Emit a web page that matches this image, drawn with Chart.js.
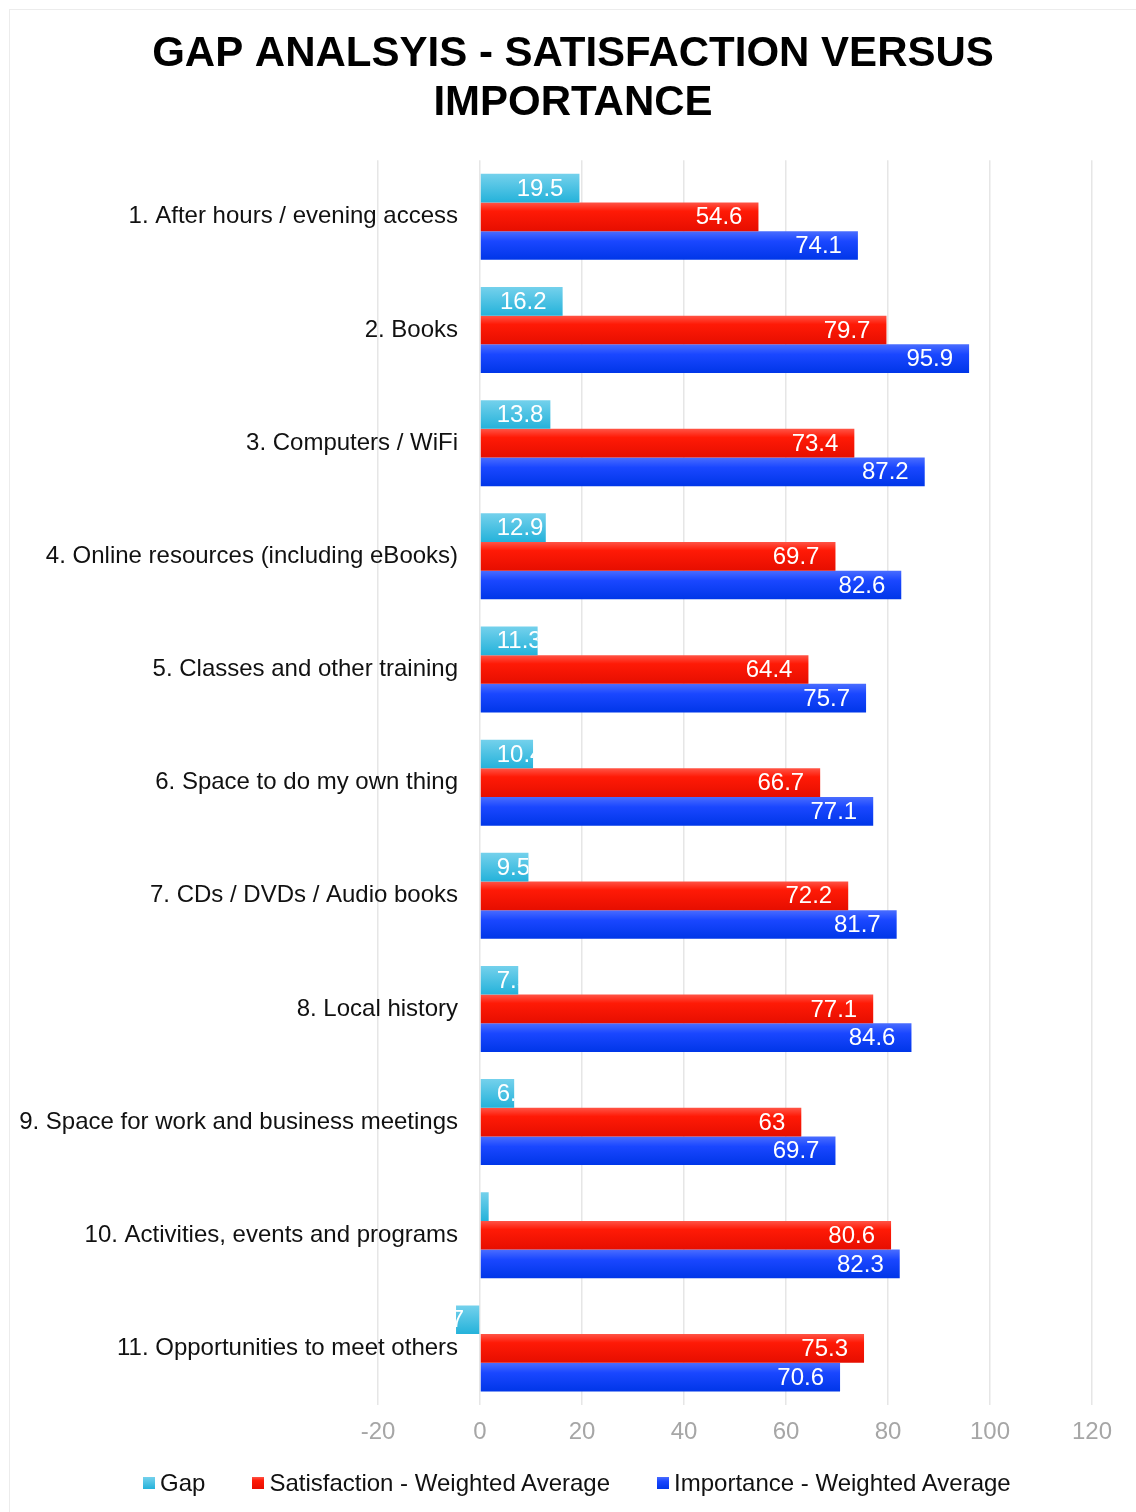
<!DOCTYPE html>
<html lang="en">
<head>
    <meta charset="UTF-8">
    <title>Gap Analysis - Satisfaction versus Importance</title>
    <style>
        body {
            margin: 0;
            padding: 0;
            background: #fff;
            font-family: "Liberation Sans", Arial, sans-serif;
        }
        .frame {
            position: absolute;
            left: 9px;
            top: 9px;
            width: 1127px;
            height: 1503px;
            border-top: 1px solid #ececec;
            border-left: 1px solid #ececec;
        }
        canvas {
            display: block;
        }
        #legend {
            position: absolute;
            left: 143px;
            top: 1469px;
            display: flex;
            align-items: center;
            font-size: 24px;
            line-height: 28px;
            color: #111;
        }
        #legend .item {
            display: flex;
            align-items: center;
            margin-right: 47px;
        }
        #legend .swatch {
            width: 12px;
            height: 12px;
            margin-right: 5px;
        }
    </style>
    <script src="https://cdn.jsdelivr.net/npm/chart.js"></script>
</head>
<body>
    <div class="frame">
        <canvas id="gapChart" width="1126" height="1502"></canvas>
    </div>
    <div id="legend"></div>
    <script>
        // データ
        const categories = [
            '1. After hours / evening access',
            '2. Books',
            '3. Computers / WiFi',
            '4. Online resources (including eBooks)',
            '5. Classes and other training',
            '6. Space to do my own thing',
            '7. CDs / DVDs / Audio books',
            '8. Local history',
            '9. Space for work and business meetings',
            '10. Activities, events and programs',
            '11. Opportunities to meet others'
        ];
        const seriesNames = ['Gap', 'Satisfaction - Weighted Average', 'Importance - Weighted Average'];
        const gapValues = [19.5, 16.2, 13.8, 12.9, 11.3, 10.4, 9.5, 7.5, 6.7, 1.7, -4.7];
        const satisfactionValues = [54.6, 79.7, 73.4, 69.7, 64.4, 66.7, 72.2, 77.1, 63, 80.6, 75.3];
        const importanceValues = [74.1, 95.9, 87.2, 82.6, 75.7, 77.1, 81.7, 84.6, 69.7, 82.3, 70.6];

        const FONT = '"Liberation Sans", Arial, sans-serif';

        // 縦グラデーション (上 → 下)
        const gradientStops = [
            [[0, '#74d1ec'], [1, '#24b2da']],
            [[0, '#ff5446'], [0.3, '#ff1a06'], [1, '#e60e00']],
            [[0, '#4a6dff'], [0.35, '#1a47ff'], [1, '#0036e8']]
        ];
        const flatColors = ['#3fbfe2', '#f51400', '#0a3cf2'];

        // 各バーにグラデーションを設定
        const barGradientPlugin = {
            id: 'barGradient',
            beforeDatasetsDraw(chart) {
                const ctx = chart.ctx;
                chart.data.datasets.forEach((ds, i) => {
                    chart.getDatasetMeta(i).data.forEach(bar => {
                        const { y, height } = bar.getProps(['y', 'height'], true);
                        const g = ctx.createLinearGradient(0, y - height / 2, 0, y + height / 2);
                        gradientStops[i].forEach(s => g.addColorStop(s[0], s[1]));
                        bar.options.backgroundColor = g;
                    });
                });
            }
        };

        // バーの内側(端)に値を表示、バーからはみ出す部分は切り取る
        const insideEndLabels = {
            id: 'insideEndLabels',
            afterDatasetsDraw(chart) {
                const ctx = chart.ctx;
                ctx.save();
                ctx.font = '24px ' + FONT;
                ctx.fillStyle = '#fff';
                ctx.textBaseline = 'middle';
                ctx.textAlign = 'left';
                chart.data.datasets.forEach((ds, i) => {
                    chart.getDatasetMeta(i).data.forEach((bar, idx) => {
                        const value = ds.data[idx];
                        const { x, y, base, height } = bar.getProps(['x', 'y', 'base', 'height'], true);
                        const left = Math.min(x, base);
                        const right = Math.max(x, base);
                        const text = String(value);
                        const tw = ctx.measureText(text).width;
                        let textRight;
                        if (value >= 0) {
                            textRight = Math.max(right - 16, left + 16 + tw);
                        } else {
                            textRight = left + 8;
                        }
                        ctx.save();
                        ctx.beginPath();
                        ctx.rect(left, y - height / 2, right - left, height);
                        ctx.clip();
                        ctx.fillText(text, textRight - tw, y + 1);
                        ctx.restore();
                    });
                });
                ctx.restore();
            }
        };

        const datasets = [gapValues, satisfactionValues, importanceValues].map((vals, i) => ({
            label: seriesNames[i],
            data: vals,
            yAxisID: 'y',
            backgroundColor: () => flatColors[i],
            borderWidth: 0,
            categoryPercentage: 0.76,
            barPercentage: 1.0
        }));

        const ctx = document.getElementById('gapChart').getContext('2d');
        const chart = new Chart(ctx, {
            type: 'bar',
            data: { labels: categories, datasets: datasets },
            options: {
                indexAxis: 'y',
                responsive: false,
                animation: false,
                layout: { padding: 0 },
                plugins: {
                    legend: { display: false },
                    tooltip: { enabled: false },
                    title: {
                        display: true,
                        text: ['GAP ANALSYIS - SATISFACTION VERSUS', 'IMPORTANCE'],
                        color: '#000',
                        font: { family: FONT, size: 42, weight: 'bold', lineHeight: 1.17 },
                        padding: { top: 20, bottom: 32 }
                    }
                },
                scales: {
                    y: {
                        type: 'category',
                        position: { x: -4.3 },
                        grid: { display: false },
                        border: { display: false },
                        ticks: {
                            color: '#111',
                            font: { family: FONT, size: 24 }
                        }
                    },
                    yLeftGutter: {
                        type: 'linear',
                        axis: 'y',
                        position: 'left',
                        grid: { display: false },
                        border: { display: false },
                        ticks: { display: false },
                        afterFit(scale) { scale.width = 368; }
                    },
                    yRightGutter: {
                        type: 'linear',
                        axis: 'y',
                        position: 'right',
                        grid: { display: false },
                        border: { display: false },
                        ticks: { display: false },
                        afterFit(scale) { scale.width = 44; }
                    },
                    x: {
                        type: 'linear',
                        position: 'bottom',
                        min: -20,
                        max: 120,
                        grid: { color: '#e6e6e6', lineWidth: 1.5, drawTicks: false },
                        border: { display: false },
                        ticks: {
                            stepSize: 20,
                            padding: 13,
                            color: '#a6a6a6',
                            font: { family: FONT, size: 24 }
                        },
                        afterFit(scale) { scale.height = 107; }
                    }
                }
            },
            plugins: [barGradientPlugin, insideEndLabels]
        });

        // 凡例 (HTML)
        const legendEl = document.getElementById('legend');
        seriesNames.forEach((name, i) => {
            const item = document.createElement('div');
            item.className = 'item';
            const sw = document.createElement('span');
            sw.className = 'swatch';
            sw.style.background = 'linear-gradient(' + gradientStops[i].map(s => s[1] + ' ' + (s[0] * 100) + '%').join(', ') + ')';
            const label = document.createElement('span');
            label.textContent = name;
            item.appendChild(sw);
            item.appendChild(label);
            legendEl.appendChild(item);
        });
    </script>
</body>
</html>
